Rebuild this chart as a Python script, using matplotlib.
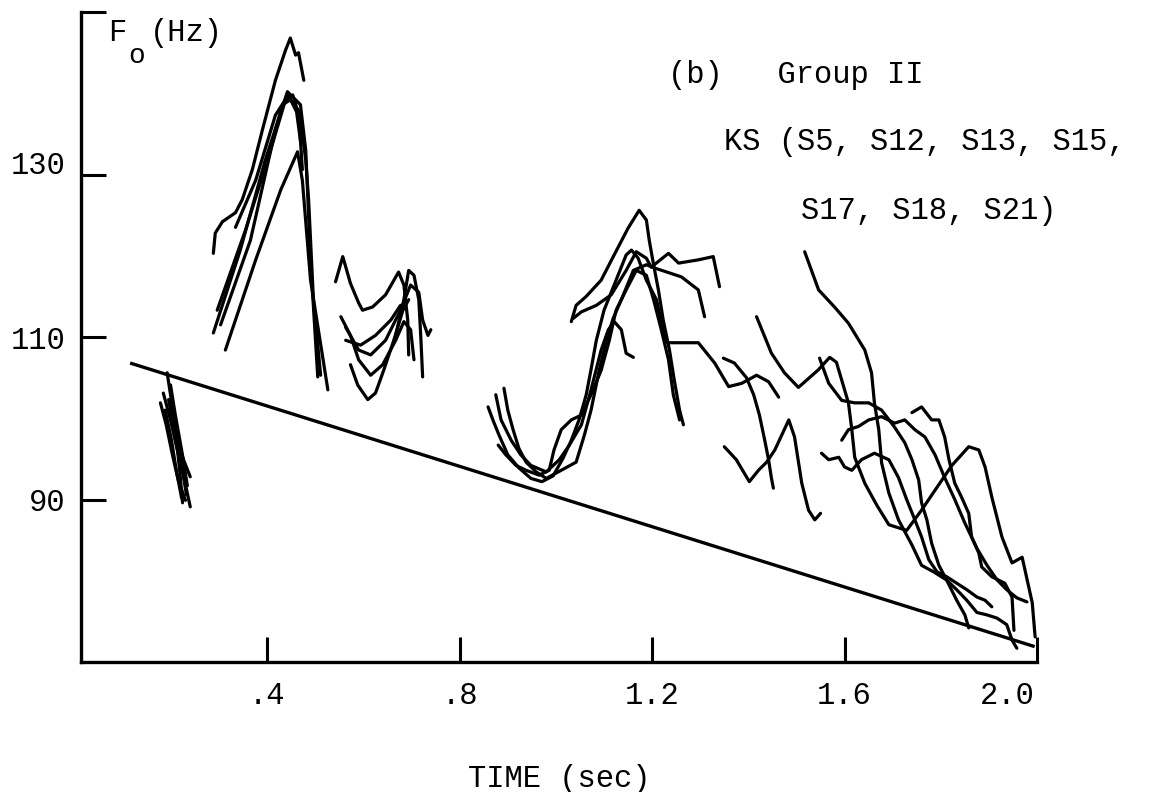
import matplotlib
matplotlib.use("Agg")
import matplotlib.pyplot as plt
from matplotlib.transforms import ScaledTranslation

plt.rcParams['font.family'] = ['Liberation Mono', 'DejaVu Sans Mono']

# ---------------- data (time in sec, F0 in Hz) ----------------
x_ticks = [0.4, 0.8, 1.2, 1.6, 2.0]
x_tick_labels = [".4", ".8", "1.2", "1.6", "2.0"]
y_ticks = [90, 110, 130, 150]
y_tick_labels = ["90", "110", "130", ""]

# declination (regression) line
decl_t = [0.115, 1.995]
decl_f = [106.8, 71.9]

# group 1 (t ~ 0.2)
g1a_t = [0.192, 0.199, 0.209, 0.218, 0.224]; g1a_f = [105.6, 102.9, 98.6, 93.6, 89.6]
g1b_t = [0.178, 0.190, 0.203, 0.215, 0.230]; g1b_f = [101.9, 99.2, 95.5, 92.4, 89.9]
g1c_t = [0.184, 0.199, 0.213, 0.228, 0.240]; g1c_f = [103.1, 99.8, 96.1, 92.4, 89.1]
g1d_t = [0.205, 0.215, 0.226, 0.240];        g1d_f = [99.4, 97.3, 94.9, 92.8]
g1e_t = [0.195, 0.207, 0.220, 0.232];        g1e_f = [102.3, 98.6, 95.0, 90.6]
g1f_t = [0.188, 0.201, 0.211, 0.222];        g1f_f = [101.0, 97.3, 93.6, 90.2]
g1g_t = [0.199, 0.209, 0.222, 0.234];        g1g_f = [104.1, 100.4, 96.1, 91.7]

# group 2 (peak near t ~ 0.45)
g2a_t = [0.288, 0.292, 0.307, 0.334, 0.348, 0.369, 0.390, 0.417, 0.438, 0.448, 0.459, 0.465, 0.476]
g2a_f = [120.3, 122.8, 124.2, 125.3, 126.9, 130.6, 135.5, 141.6, 145.3, 146.8, 144.7, 145.0, 141.6]
g2b_t = [0.288, 0.344, 0.396, 0.442, 0.469, 0.480, 0.490, 0.505]
g2b_f = [110.5, 120.7, 131.8, 140.2, 138.6, 133.0, 119.5, 105.1]
g2c_t = [0.313, 0.376, 0.428, 0.463, 0.473, 0.490, 0.526]
g2c_f = [108.4, 119.5, 128.1, 132.8, 129.3, 117.0, 103.5]
g2d_t = [0.296, 0.355, 0.407, 0.438, 0.453, 0.469, 0.480, 0.486, 0.496, 0.511]
g2d_f = [113.3, 123.2, 133.0, 139.2, 139.8, 136.7, 131.8, 126.9, 114.6, 105.3]
g2e_t = [0.334, 0.376, 0.417, 0.444, 0.461, 0.469]
g2e_f = [123.5, 129.3, 137.3, 139.8, 137.7, 134.2]
g2f_t = [0.303, 0.365, 0.417, 0.432, 0.448, 0.465, 0.473]
g2f_f = [111.5, 121.9, 135.5, 138.6, 139.2, 137.9, 130.6]

# group 3 (t ~ 0.54 - 0.74)
g3a_t = [0.542, 0.557, 0.573, 0.590, 0.598, 0.619, 0.646, 0.673, 0.684, 0.692, 0.694]
g3a_f = [116.8, 119.9, 116.6, 114.2, 113.3, 113.7, 115.2, 118.0, 116.4, 112.1, 107.8]
g3b_t = [0.667, 0.684, 0.694, 0.705, 0.715, 0.719, 0.723]
g3b_f = [110.2, 114.6, 118.2, 117.6, 114.6, 110.2, 105.1]
g3c_t = [0.563, 0.590, 0.615, 0.646, 0.677, 0.698, 0.715, 0.723, 0.734, 0.740]
g3c_f = [111.2, 108.4, 107.8, 109.6, 113.3, 116.4, 115.5, 112.1, 110.2, 110.9]
g3d_t = [0.573, 0.588, 0.609, 0.625, 0.642, 0.663, 0.682, 0.694]
g3d_f = [106.6, 104.1, 102.3, 103.1, 105.9, 109.6, 113.3, 114.6]
g3e_t = [0.553, 0.573, 0.590, 0.615, 0.640, 0.667, 0.684, 0.698, 0.705]
g3e_f = [112.5, 110.2, 107.2, 105.3, 106.6, 109.6, 111.9, 110.9, 107.2]
g3f_t = [0.563, 0.594, 0.625, 0.657, 0.677]
g3f_f = [109.6, 109.0, 110.2, 112.1, 113.9]

# group 4 (t ~ 0.86 - 1.55)
g4a_t = [1.032, 1.042, 1.063, 1.094, 1.121, 1.150, 1.173, 1.188, 1.194, 1.203, 1.213, 1.223, 1.236, 1.246, 1.257, 1.265]
g4a_f = [111.9, 113.9, 115.0, 117.0, 120.1, 123.4, 125.6, 124.4, 121.9, 118.9, 115.8, 112.1, 108.4, 104.7, 101.0, 99.2]
g4b_t = [1.036, 1.053, 1.084, 1.115, 1.146, 1.167, 1.188, 1.198, 1.234, 1.255, 1.296, 1.327, 1.340]
g4b_f = [112.3, 113.1, 113.9, 115.2, 118.2, 120.5, 119.7, 118.6, 120.3, 119.1, 119.5, 119.9, 116.2]
g4c_t = [0.859, 0.869, 0.882, 0.900, 0.923, 0.948, 0.971, 0.994, 1.015, 1.032, 1.048, 1.063, 1.073, 1.084, 1.100,
         1.125, 1.146, 1.157, 1.171, 1.188, 1.209, 1.229, 1.261, 1.296, 1.330, 1.359, 1.386, 1.417, 1.442, 1.463]
g4c_f = [101.4, 99.8, 97.9, 95.5, 93.9, 92.6, 92.2, 92.9, 95.1, 97.3, 99.8, 102.9, 106.0, 109.6, 113.3,
         117.0, 120.1, 120.7, 119.7, 117.0, 114.6, 109.3, 109.3, 109.3, 106.8, 103.9, 104.3, 105.3, 104.5, 102.6]
g4d_t = [0.892, 0.900, 0.911, 0.923, 0.938, 0.959, 0.980, 1.011, 1.042, 1.059, 1.073, 1.090, 1.105, 1.119, 1.136,
         1.161, 1.188, 1.205, 1.261, 1.296, 1.309]
g4d_f = [103.7, 101.0, 98.6, 96.3, 94.6, 93.4, 92.6, 93.6, 94.6, 97.9, 101.0, 105.9, 109.6, 112.3, 114.6,
         118.2, 118.9, 118.5, 117.4, 115.8, 112.5]
g4e_t = [0.880, 0.896, 0.917, 0.938, 0.965, 0.986, 0.996, 1.011, 1.032, 1.053, 1.073, 1.094, 1.111, 1.125, 1.146,
         1.167, 1.188, 1.203, 1.219, 1.234, 1.244, 1.257]
g4e_f = [96.7, 95.5, 94.2, 93.6, 93.0, 93.6, 96.1, 98.6, 99.8, 100.4, 102.9, 105.9, 109.6, 113.3, 115.8,
         118.2, 117.6, 114.6, 110.9, 107.2, 102.9, 99.8]
g4f_t = [0.875, 0.886, 0.907, 0.927, 0.948, 0.980, 1.007, 1.028, 1.053, 1.073, 1.094, 1.109, 1.121, 1.136, 1.146, 1.161]
g4f_f = [102.9, 99.8, 97.3, 95.5, 94.2, 93.4, 94.9, 96.7, 99.2, 103.5, 108.4, 110.9, 111.9, 110.9, 108.0, 107.5]
g4g_t = [1.348, 1.371, 1.396, 1.411, 1.423, 1.434, 1.442, 1.448, 1.452]
g4g_f = [107.4, 106.8, 105.0, 102.9, 100.4, 97.3, 94.9, 92.6, 91.4]
g4h_t = [1.350, 1.375, 1.402, 1.421, 1.438, 1.455, 1.484, 1.496, 1.511, 1.525, 1.538, 1.550]
g4h_f = [96.5, 94.9, 92.2, 93.6, 94.6, 96.1, 99.8, 97.7, 92.0, 88.7, 87.5, 88.3]

# group 5 (t ~ 1.4 - 2.0)
g5a_t = [1.517, 1.546, 1.579, 1.608, 1.642, 1.656, 1.662, 1.671, 1.677, 1.692, 1.712, 1.740, 1.760, 1.785, 1.812, 1.833, 1.850, 1.858]
g5a_f = [120.5, 115.8, 113.7, 111.7, 108.4, 105.6, 101.9, 98.6, 94.5, 90.8, 87.5, 84.4, 81.9, 81.1, 80.1, 77.6, 75.8, 74.2]
g5b_t = [1.417, 1.448, 1.475, 1.504, 1.527, 1.546, 1.569, 1.583, 1.594, 1.608, 1.615, 1.621, 1.642, 1.667, 1.692,
         1.729, 1.760, 1.792, 1.823, 1.858, 1.879, 1.892, 1.906, 1.927, 1.948, 1.969, 1.975, 1.990, 1.996]
g5b_f = [112.5, 108.0, 105.6, 103.8, 105.0, 106.0, 107.5, 106.9, 104.7, 101.9, 98.6, 95.2, 92.0, 89.3, 86.9,
         86.2, 88.7, 91.5, 94.2, 96.5, 96.1, 94.0, 90.3, 85.4, 82.2, 82.9, 81.3, 77.3, 73.1]
g5c_t = [1.552, 1.567, 1.588, 1.600, 1.615, 1.635, 1.662, 1.692, 1.712, 1.729, 1.746, 1.760, 1.775, 1.792, 1.812,
         1.833, 1.854, 1.875, 1.892, 1.906]
g5c_f = [95.7, 94.9, 95.2, 94.0, 93.6, 94.9, 95.7, 94.9, 92.7, 90.0, 87.5, 85.4, 82.6, 81.1, 80.5,
         79.7, 78.9, 78.0, 77.6, 76.8]
g5d_t = [1.740, 1.760, 1.781, 1.796, 1.808, 1.817, 1.829, 1.843, 1.858, 1.864, 1.879, 1.885, 1.906, 1.933, 1.948, 1.952]
g5d_f = [100.7, 101.4, 99.8, 99.8, 97.7, 94.9, 92.0, 90.3, 88.3, 85.4, 83.4, 81.7, 80.5, 79.7, 78.0, 73.9]
g5e_t = [1.548, 1.567, 1.594, 1.621, 1.650, 1.677, 1.704, 1.725, 1.740, 1.754, 1.760, 1.771, 1.781, 1.796, 1.812,
         1.833, 1.854, 1.875, 1.896, 1.917, 1.937, 1.948, 1.958]
g5e_f = [107.4, 104.3, 102.2, 101.9, 101.9, 101.0, 98.9, 97.0, 94.9, 92.4, 89.6, 87.5, 84.6, 81.9, 80.1,
         78.9, 77.6, 76.1, 75.8, 75.4, 74.6, 72.7, 71.7]
g5f_t = [1.594, 1.608, 1.629, 1.650, 1.677, 1.704, 1.725, 1.746, 1.767, 1.788, 1.808, 1.829, 1.850, 1.875, 1.896,
         1.917, 1.937, 1.958, 1.979]
g5f_f = [97.3, 98.6, 99.0, 99.8, 100.2, 99.4, 99.8, 98.6, 97.7, 95.5, 92.7, 90.0, 87.1, 84.0, 81.9,
         80.1, 78.9, 77.9, 77.4]

contours = [
    (g1a_t, g1a_f), (g1b_t, g1b_f), (g1c_t, g1c_f), (g1d_t, g1d_f), (g1e_t, g1e_f), (g1f_t, g1f_f), (g1g_t, g1g_f),
    (g2a_t, g2a_f), (g2b_t, g2b_f), (g2c_t, g2c_f), (g2d_t, g2d_f), (g2e_t, g2e_f), (g2f_t, g2f_f),
    (g3a_t, g3a_f), (g3b_t, g3b_f), (g3c_t, g3c_f), (g3d_t, g3d_f), (g3e_t, g3e_f), (g3f_t, g3f_f),
    (g4a_t, g4a_f), (g4b_t, g4b_f), (g4c_t, g4c_f), (g4d_t, g4d_f), (g4e_t, g4e_f), (g4f_t, g4f_f),
    (g4g_t, g4g_f), (g4h_t, g4h_f),
    (g5a_t, g5a_f), (g5b_t, g5b_f), (g5c_t, g5c_f), (g5d_t, g5d_f), (g5e_t, g5e_f), (g5f_t, g5f_f),
]

# ---------------- figure ----------------
fig = plt.figure(figsize=(11.51, 7.92), dpi=100)
fig.patch.set_facecolor("white")
ax = fig.add_axes([0.0704, 0.1641, 0.8306, 0.8207])

for t, f in contours:
    ax.plot(t, f, color="black", lw=2.3, solid_joinstyle="round", solid_capstyle="round")
ax.plot(decl_t, decl_f, color="black", lw=2.4, solid_capstyle="butt")

ax.set_xlim(0.013, 2.0)
ax.set_ylim(70, 150)

for s in ["top", "right"]:
    ax.spines[s].set_visible(False)
for s in ["left", "bottom"]:
    ax.spines[s].set_linewidth(2.4)

ax.set_xticks(x_ticks)
ax.set_xticklabels(x_tick_labels)
ax.set_yticks(y_ticks)
ax.set_yticklabels(y_tick_labels)
ax.tick_params(axis="both", direction="in", length=18, width=2.2, labelsize=22, colors="black")
ax.tick_params(axis="y", pad=11)
ax.tick_params(axis="x", pad=14)

# typewritten labels are not exactly centred on their ticks
xl = ax.get_xticklabels()
xl[-1].set_transform(xl[-1].get_transform() + ScaledTranslation(-0.30, 0, fig.dpi_scale_trans))
yl = ax.get_yticklabels()
yl[2].set_transform(yl[2].get_transform() + ScaledTranslation(0, 0.12, fig.dpi_scale_trans))

ax.set_xlabel("TIME (sec)", fontsize=22, labelpad=38)

# axis title F0(Hz)
ax.text(0.069, 147.4, "F", fontsize=22, ha="left", va="center")
ax.text(0.111, 144.6, "o", fontsize=20, ha="left", va="center")
ax.text(0.156, 147.4, "(Hz)", fontsize=22, ha="left", va="center")

# annotation
ax.text(1.234, 142.2, "(b)   Group II", fontsize=22, ha="left", va="center")
ax.text(1.350, 134.0, "KS (S5, S12, S13, S15,", fontsize=22, ha="left", va="center", clip_on=False)
ax.text(1.510, 125.5, "S17, S18, S21)", fontsize=22, ha="left", va="center")

fig.savefig("out.png", dpi=100, facecolor="white")
